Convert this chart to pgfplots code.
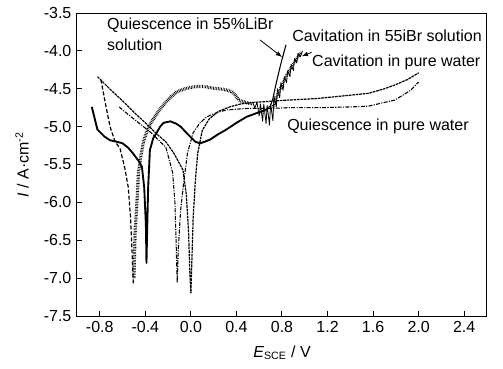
\documentclass[border=0pt,12pt]{standalone}
\usepackage{pgfplots}
\pgfplotsset{compat=1.18}
\usepackage{fontspec}
\setmainfont{Liberation Sans}
\begin{document}
\begin{tikzpicture}
\path[use as bounding box] (-57.75pt,-39pt) rectangle (319.5pt,237pt);
\begin{axis}[
  at={(0,0)}, anchor=south west,
  scale only axis, width=307.5pt, height=227.25pt,
  xmin=-1.0, xmax=2.6, ymin=-7.5, ymax=-3.5,
  xtick={-0.8,-0.4,0,0.4,0.8,1.2,1.6,2.0,2.4},
  ytick={-7.5,-7,-6.5,-6,-5.5,-5,-4.5,-4,-3.5},
  xtick pos=left, ytick pos=left, tick align=inside,
  major tick length=4pt,
  axis line style={line width=0.75pt},
  every tick/.style={line width=0.75pt, black},
  /pgf/number format/assume math mode=true,
  xticklabel style={/pgf/number format/fixed,/pgf/number format/fixed zerofill,/pgf/number format/precision=1},
  yticklabel style={/pgf/number format/fixed,/pgf/number format/fixed zerofill,/pgf/number format/precision=1},
  clip=false,
]
% Quiescence in 55% LiBr (thick solid)
\addplot[black, line width=1.4pt, line join=round] coordinates {
(-0.87,-4.74) (-0.84,-4.92) (-0.82,-5.04) (-0.76,-5.13) (-0.71,-5.18) (-0.65,-5.2) (-0.6,-5.22) (-0.55,-5.28) (-0.51,-5.35) (-0.46,-5.45) (-0.43,-5.53) (-0.41,-5.8) (-0.395,-6.3) (-0.39,-6.8) (-0.383,-6.3) (-0.375,-5.8) (-0.36,-5.31) (-0.33,-5.15) (-0.30,-5.08) (-0.27,-5.0) (-0.24,-4.95) (-0.18,-4.93) (-0.13,-4.96) (-0.09,-5.0) (-0.04,-5.08) (0.0,-5.14) (0.04,-5.2) (0.08,-5.22) (0.12,-5.2) (0.17,-5.17) (0.24,-5.1) (0.31,-5.04) (0.40,-4.95) (0.49,-4.87) (0.58,-4.82) (0.66,-4.78)
};
\addplot[black, line width=0.8pt] coordinates {
(0.66,-4.78) (0.70,-4.72) (0.72,-4.63) (0.75,-4.42) (0.79,-4.17) (0.835,-3.92)
};
% Cavitation branch, cathodic (dashed)
\addplot[black, line width=0.9pt, dash pattern=on 3pt off 1.5pt] coordinates {
(-0.79,-4.38) (-0.75,-4.7) (-0.71,-5.0) (-0.67,-5.18) (-0.62,-5.3) (-0.58,-5.55) (-0.55,-5.8) (-0.53,-6.2) (-0.515,-6.7) (-0.505,-7.09)
};
% Cavitation branch, anodic (hatched band)
\addplot[black, line width=2.4pt, dash pattern=on 0.5pt off 0.7pt] coordinates {
(-0.50,-7.0) (-0.49,-6.4) (-0.47,-5.9) (-0.46,-5.6) (-0.44,-5.4) (-0.42,-5.22) (-0.40,-5.12) (-0.37,-5.0) (-0.33,-4.9) (-0.29,-4.81) (-0.25,-4.73) (-0.21,-4.66) (-0.17,-4.6) (-0.13,-4.55) (-0.09,-4.52) (-0.05,-4.5) (0.0,-4.48) (0.06,-4.47) (0.12,-4.47) (0.18,-4.49) (0.24,-4.5) (0.30,-4.51) (0.36,-4.54) (0.39,-4.58) (0.42,-4.65) (0.46,-4.67) (0.50,-4.69) (0.55,-4.7)
};
\addplot[black, line width=0.6pt, line join=round] coordinates {
(0.55,-4.7) (0.56,-4.76) (0.58,-4.68) (0.60,-4.86) (0.61,-4.7) (0.63,-4.93) (0.64,-4.7) (0.66,-4.96) (0.67,-4.72) (0.69,-4.98) (0.70,-4.7) (0.72,-4.92) (0.73,-4.6) (0.75,-4.74) (0.76,-4.5) (0.78,-4.62) (0.79,-4.42) (0.81,-4.52) (0.82,-4.34) (0.84,-4.42) (0.85,-4.26) (0.87,-4.34) (0.88,-4.18) (0.90,-4.26) (0.91,-4.1) (0.93,-4.16) (0.94,-4.03) (0.96,-4.08) (0.98,-4.0)
};
\addplot[black, line width=2.0pt, dash pattern=on 0.5pt off 0.7pt] coordinates {
(0.72,-4.75) (0.76,-4.58) (0.80,-4.45) (0.84,-4.32) (0.88,-4.22) (0.92,-4.12) (0.97,-4.02)
};
% curve with minimum at 0.0 (upper long branch)
\addplot[black, line width=0.9pt, dash pattern=on 2pt off 0.6pt] coordinates {
(-0.82,-4.34) (-0.7,-4.52) (-0.6,-4.66) (-0.5,-4.81) (-0.4,-4.95) (-0.29,-5.11) (-0.22,-5.2) (-0.15,-5.35) (-0.07,-5.57) (-0.04,-5.9) (-0.02,-6.4) (-0.01,-6.9) (0.0,-7.2) (0.01,-6.7) (0.02,-6.2) (0.04,-5.7) (0.06,-5.35) (0.1,-5.05) (0.16,-4.9) (0.24,-4.8) (0.34,-4.74) (0.44,-4.7) (0.55,-4.68) (0.65,-4.67) (0.75,-4.66) (0.85,-4.65) (1.1,-4.63) (1.3,-4.6) (1.56,-4.56) (1.7,-4.5) (1.79,-4.45) (1.9,-4.38) (2.0,-4.29)
};
% curve with minimum at -0.12 (lower long branch)
\addplot[black, line width=0.8pt, dash pattern=on 3pt off 1pt on 0.8pt off 1pt] coordinates {
(-0.63,-4.74) (-0.55,-4.84) (-0.45,-4.96) (-0.35,-5.08) (-0.27,-5.2) (-0.22,-5.27) (-0.16,-5.61) (-0.14,-6.0) (-0.13,-6.5) (-0.12,-7.06) (-0.11,-6.6) (-0.09,-6.1) (-0.06,-5.7) (-0.03,-5.35) (0.02,-5.08) (0.08,-4.95) (0.14,-4.87) (0.22,-4.82) (0.31,-4.78) (0.49,-4.76) (0.7,-4.76) (0.85,-4.75) (1.12,-4.75) (1.4,-4.74) (1.56,-4.73) (1.7,-4.68) (1.79,-4.65) (1.93,-4.52) (2.0,-4.41)
};
% annotations
\node[anchor=west, inner sep=0pt] at (axis cs:-0.737,-3.658) {Quiescence in 55\%LiBr};
\node[anchor=west, inner sep=0pt] at (axis cs:-0.737,-3.922) {solution};
\node[anchor=west, inner sep=0pt] at (axis cs:0.888,-3.804) {Cavitation in 55iBr solution};
\node[anchor=west, inner sep=0pt] at (axis cs:1.063,-4.147) {Cavitation in pure water};
\node[anchor=west, inner sep=0pt] at (axis cs:0.844,-4.992) {Quiescence in pure water};
\draw[-latex, line width=0.6pt] (axis cs:0.607,-3.856) -- (axis cs:0.800,-4.081);
\draw[-latex, line width=0.6pt] (axis cs:1.06,-4.02) -- (axis cs:0.975,-4.07);
\node[rotate=90] at (axis description cs:-0.134,0.5) {\textit{I} / A·cm\textsuperscript{-2}};
\node at (axis description cs:0.5,-0.122) {\textit{E}\textsubscript{SCE} / V};
\end{axis}
\end{tikzpicture}
\end{document}
